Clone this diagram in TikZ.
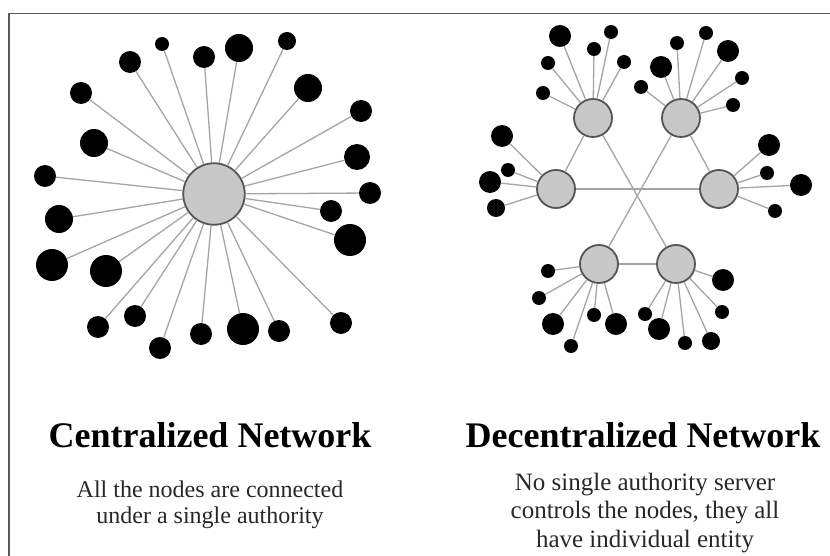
\documentclass[tikz,border=0pt]{standalone}
\usepackage{fontspec}
\setmainfont{Liberation Serif}
\definecolor{hubfill}{RGB}{200,200,200}
\definecolor{hubline}{RGB}{85,85,85}
\definecolor{linkc}{RGB}{165,165,165}
\definecolor{framec}{RGB}{90,90,90}
\definecolor{subc}{RGB}{40,40,40}
\begin{document}
\begin{tikzpicture}[x=1pt,y=-1pt,
  leaf/.style={circle,fill=black,inner sep=0pt,minimum size={#1*1pt}},
  hub/.style={circle,fill=hubfill,draw=hubline,line width=1.8pt,inner sep=0pt,minimum size={#1*1pt}},
  link/.style={draw=linkc,line width=1.3pt},
  frameline/.style={draw=framec,line width=1.5pt},
  title/.style={font=\fontsize{36}{40}\selectfont\bfseries,anchor=base,inner sep=0pt},
  subl/.style={font=\fontsize{24}{26}\selectfont,text=subc,anchor=base,inner sep=0pt},
  subr/.style={font=\fontsize{25}{28}\selectfont,text=subc,anchor=base,inner sep=0pt}]
\useasboundingbox (0,0) rectangle (830,556);
\fill[white] (0,0) rectangle (830,556);
% frame
\coordinate (fb) at (9,560);
\coordinate (ft) at (9,13.7);
\coordinate (fr) at (834,13.7);
\draw[frameline] (fb) -- (ft) -- (fr);
% centralized
\node[hub=61.5] (cen) at (214,194) {};
\foreach \i/\x/\y/\d in {1/162/44/14,2/130/62/22,3/204/57/22,4/239/48/28,5/287/41/18,
  6/81/93/22,7/308/88/28,8/361/111/22,9/94/143/28,10/357/157/26,11/45/176/22,
  12/370/193/22,13/331/211/22,14/59/219/28,15/350/240/32,16/52/265/32,17/106/271/32,
  18/98/327/22,19/135/316/22,20/160/348/22,21/201/334/22,22/243/329/32,23/279/331/22,
  24/341/323/22}{
  \node[leaf=\d] (c\i) at (\x,\y) {};
  \draw[link] (cen) -- (c\i);
}
% decentralized hubs
\node[hub=38] (hA) at (593,118) {};
\node[hub=38] (hB) at (681,118) {};
\node[hub=38] (hC) at (556,189) {};
\node[hub=38] (hD) at (719,189) {};
\node[hub=38] (hE) at (599,264) {};
\node[hub=38] (hF) at (676,264) {};
\draw[link] (hA) -- (hC);
\draw[link] (hB) -- (hD);
\draw[link] (hC) -- (hD);
\draw[link] (hE) -- (hF);
\draw[link] (hA) -- (hF);
\draw[link] (hB) -- (hE);
\foreach \i/\x/\y/\d in {1/560/36/22,2/611/32/14,3/594/49/14,4/548/63/14,5/624/62/14,6/543/93/14}{
  \node[leaf=\d] (a\i) at (\x,\y) {};
  \draw[link] (hA) -- (a\i);
}
\foreach \i/\x/\y/\d in {1/706/33/14,2/677/43/14,3/728/51/22,4/661/67/22,5/742/78/14,6/641/87/14,7/733/105/14}{
  \node[leaf=\d] (b\i) at (\x,\y) {};
  \draw[link] (hB) -- (b\i);
}
\foreach \i/\x/\y/\d in {1/502/136/22,2/508/170/14,3/490/182/22,4/496/208/18}{
  \node[leaf=\d] (l\i) at (\x,\y) {};
  \draw[link] (hC) -- (l\i);
}
\foreach \i/\x/\y/\d in {1/769/145/22,2/767/173/14,3/801/185/22,4/775/211/14}{
  \node[leaf=\d] (r\i) at (\x,\y) {};
  \draw[link] (hD) -- (r\i);
}
\foreach \i/\x/\y/\d in {1/548/271/14,2/539/298/14,3/553/324/22,4/571/346/14,5/594/315/14,6/616/324/22}{
  \node[leaf=\d] (e\i) at (\x,\y) {};
  \draw[link] (hE) -- (e\i);
}
\foreach \i/\x/\y/\d in {1/723/280/22,2/645/314/14,3/659/329/22,4/685/343/14,5/711/341/18,6/722/312/14}{
  \node[leaf=\d] (f\i) at (\x,\y) {};
  \draw[link] (hF) -- (f\i);
}
% texts
\node[title] (t1) at (210,447) {Centralized Network};
\node[title] (t2) at (643,447) {Decentralized Network};
\node[subl] (s1a) at (210,497) {All the nodes are connected};
\node[subl] (s1b) at (210,523) {under a single authority};
\node[subr] (s2a) at (645,490) {No single authority server};
\node[subr] (s2b) at (645,518) {controls the nodes, they all};
\node[subr] (s2c) at (645,547) {have individual entity};
\end{tikzpicture}
\end{document}
